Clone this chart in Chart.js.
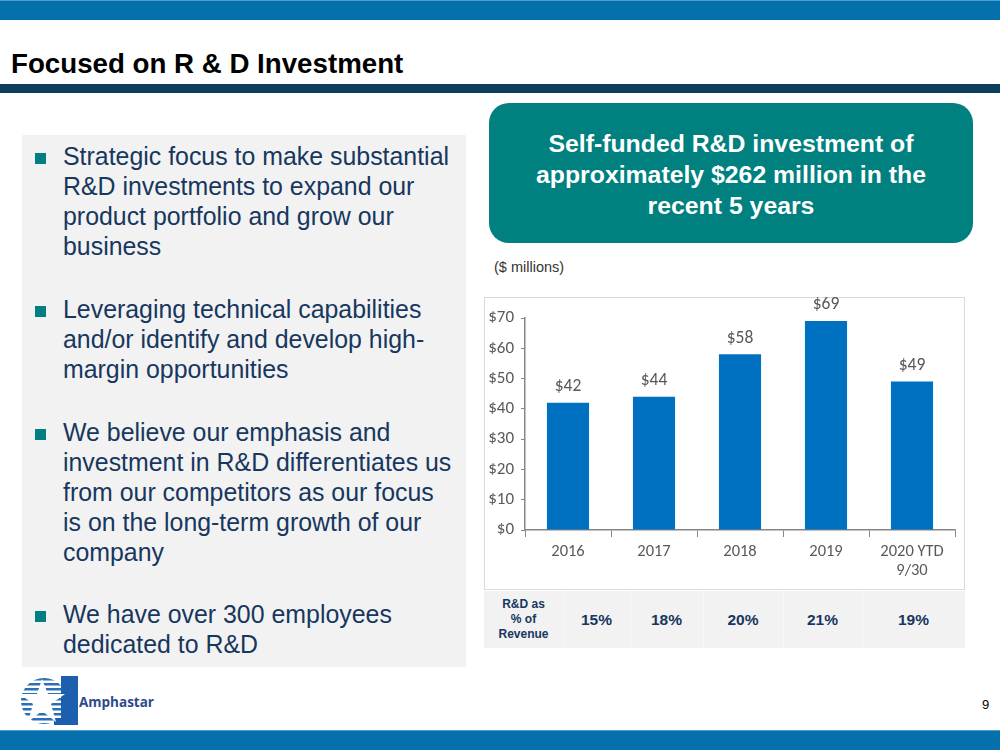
<!DOCTYPE html>
<html><head><meta charset="utf-8">
<script src="https://cdn.jsdelivr.net/npm/chart.js@4"></script>
<style>
html,body{margin:0;padding:0;}
body{width:1000px;height:750px;position:relative;overflow:hidden;background:#fff;font-family:Arial,"Liberation Sans",sans-serif;}
.abs{position:absolute;}
#topbar{left:0;top:0;width:1000px;height:20px;background:#0570ab;border-top:1px solid #4a9fd0;box-sizing:border-box;}
#title{left:11px;top:48px;font-size:27.7px;font-weight:bold;color:#000;white-space:nowrap;line-height:32px;}
#titlebar{left:0;top:84px;width:1000px;height:9px;background:#0c3e5e;}
#panel{left:22px;top:135px;width:444px;height:532px;background:#f2f2f2;}
.bul{position:absolute;left:41px;width:420px;font-size:24.9px;line-height:30px;color:#17375e;white-space:nowrap;}
.sq{position:absolute;left:-28px;top:12px;width:11px;height:11px;background:#008080;}
#callout{left:489px;top:103px;width:484px;height:140px;background:#00807f;border-radius:20px;color:#fff;font-weight:bold;font-size:24.8px;line-height:31px;text-align:center;box-sizing:border-box;padding-top:25px;white-space:nowrap;}
#mill{left:494px;top:259px;font-size:14.5px;color:#333;}
#frame{left:484px;top:297px;width:481px;height:293px;border:1px solid #d9d9d9;box-sizing:border-box;background:#fff;}
#cwrap{left:484px;top:297px;width:481px;height:293px;}
#tbl{left:484px;top:591px;width:481px;height:57px;background:#f2f2f2;}
.cell{position:absolute;top:0;height:57px;display:flex;align-items:center;justify-content:center;color:#17375e;font-weight:bold;text-align:center;}
.sep{position:absolute;top:0;width:1px;height:57px;background:#f8f8f8;}
#bottombar{left:0;top:730px;width:1000px;height:20px;background:#0570ab;border-top:1px solid #4a9fd0;box-sizing:border-box;}
#pgnum{left:982px;top:697px;font-size:13px;color:#000;}
#brand{left:79px;top:693px;font-size:13.5px;font-weight:bold;color:#2e4a8c;font-family:"Open Sans",Arial,sans-serif;}
</style></head>
<body>
<div id="topbar" class="abs"></div>
<div id="title" class="abs">Focused on R &amp; D Investment</div>
<div id="titlebar" class="abs"></div>

<div id="panel" class="abs">
  <div class="bul" style="top:6px"><span class="sq"></span>Strategic focus to make substantial<br>R&amp;D investments to expand our<br>product portfolio and grow our<br>business</div>
  <div class="bul" style="top:159px"><span class="sq"></span>Leveraging technical capabilities<br>and/or identify and develop high-<br>margin opportunities</div>
  <div class="bul" style="top:282px"><span class="sq"></span>We believe our emphasis and<br>investment in R&amp;D differentiates us<br>from our competitors as our focus<br>is on the long-term growth of our<br>company</div>
  <div class="bul" style="top:464px"><span class="sq"></span>We have over 300 employees<br>dedicated to R&amp;D</div>
</div>

<div id="callout" class="abs">Self-funded R&amp;D investment of<br>approximately $262 million in the<br>recent 5 years</div>
<div id="mill" class="abs">($ millions)</div>

<div id="frame" class="abs"></div>
<div id="cwrap" class="abs"><canvas id="c" width="481" height="293"></canvas></div>

<div id="tbl" class="abs"></div>

<svg class="abs" style="left:20px;top:676px" width="58" height="52" viewBox="0 0 58 52">
  <defs><clipPath id="cc"><circle cx="24" cy="25" r="23"/></clipPath></defs>
  <g clip-path="url(#cc)" fill="#2a6fb8">
    <rect x="0" y="2" width="48" height="2.5"/><rect x="0" y="7" width="48" height="2.5"/>
    <rect x="0" y="12" width="48" height="2.5"/><rect x="0" y="17" width="48" height="2.5"/>
    <rect x="0" y="22" width="48" height="2.5"/><rect x="0" y="27" width="48" height="2.5"/>
    <rect x="0" y="32" width="48" height="2.5"/><rect x="0" y="37" width="48" height="2.5"/>
    <rect x="0" y="42" width="48" height="2.5"/><rect x="0" y="47" width="48" height="2.5"/>
  </g>
  <polygon points="41,0 58,0 58,49 34,49 34,42 41,42" fill="#1d5fae"/>
  <polygon points="22,3 28,18 45,18 31,28 36,46 22,35 8,46 13,28 0,18 17,18" fill="#fff"/>
</svg>
<div id="brand" class="abs">Amphastar</div>
<div id="pgnum" class="abs">9</div>
<div id="bottombar" class="abs"></div>

<script>
const categories = [["2016"], ["2017"], ["2018"], ["2019"], ["2020 YTD", "9/30"]];
const rdSpend = [42, 44, 58, 69, 49];
const yTicks = [0, 10, 20, 30, 40, 50, 60, 70];
const revenueLabel = ["R&D as", "% of", "Revenue"];
const revenuePct = ["15%", "18%", "20%", "21%", "19%"];

// table
const tbl = document.getElementById('tbl');
const colEdges = [0, 79, 146, 219, 299, 378, 481];
for (let i = 0; i < colEdges.length - 1; i++) {
  const d = document.createElement('div');
  d.className = 'cell';
  d.style.left = colEdges[i] + 'px';
  d.style.width = (colEdges[i+1] - colEdges[i]) + 'px';
  if (i === 0) {
    d.style.fontSize = '12px'; d.style.lineHeight = '15px';
    d.innerHTML = revenueLabel.join('<br>');
  } else {
    d.style.fontSize = '15.5px';
    d.textContent = revenuePct[i-1];
  }
  tbl.appendChild(d);
  if (i > 0) { const s = document.createElement('div'); s.className = 'sep'; s.style.left = colEdges[i] + 'px'; tbl.appendChild(s); }
}

const FONT = 'Carlito, Lato, sans-serif';
const labelPlugin = {
  id: 'valLabels',
  afterDatasetsDraw(chart) {
    const ctx = chart.ctx;
    const meta = chart.getDatasetMeta(0);
    ctx.save();
    ctx.font = '17.5px ' + FONT;
    ctx.fillStyle = '#595959';
    ctx.textAlign = 'center';
    ctx.textBaseline = 'middle';
    meta.data.forEach((bar, i) => {
      ctx.fillText('$' + rdSpend[i], bar.x, bar.y - 16);
    });
    ctx.restore();
  }
};

new Chart(document.getElementById('c'), {
  type: 'bar',
  data: {
    labels: categories,
    datasets: [{
      data: rdSpend,
      backgroundColor: '#0070c0',
      barPercentage: 0.49,
      categoryPercentage: 1.0
    }]
  },
  options: {
    responsive: false,
    animation: false,
    layout: { padding: { top: 21, right: 10, left: 0, bottom: 0 } },
    plugins: { legend: { display: false }, tooltip: { enabled: false } },
    scales: {
      y: {
        min: 0, max: 70,
        afterBuildTicks(scale) { scale.ticks = yTicks.map(v => ({ value: v })); },
        afterFit(scale) { scale.width = 41; },
        grid: { drawOnChartArea: false, drawTicks: true, tickLength: 4, color: '#868686' },
        border: { color: '#868686', width: 1.5 },
        ticks: { padding: 7, color: '#595959', font: { family: FONT, size: 17 }, callback: v => '$' + v }
      },
      x: {
        afterFit(scale) { scale.height = 60; },
        grid: { drawOnChartArea: false, drawTicks: true, tickLength: 7, color: '#868686', offset: true },
        border: { color: '#868686', width: 1.5 },
        ticks: { padding: 5, color: '#595959', maxRotation: 0, font: { family: FONT, size: 16.5, lineHeight: 1.15 } }
      }
    }
  },
  plugins: [labelPlugin]
});
</script>
</body></html>
